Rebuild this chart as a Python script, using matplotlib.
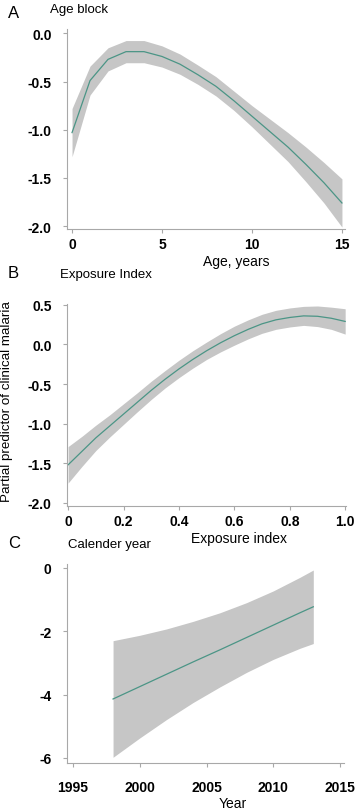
import matplotlib
matplotlib.use("Agg")
import matplotlib.pyplot as plt
import numpy as np

plt.rcParams["font.family"] = ["Liberation Sans", "DejaVu Sans"]

# Panel A: age block
age = [0, 1, 2, 3, 4, 5, 6, 7, 8, 9, 10, 11, 12, 13, 14, 15]
age_fit = [-1.03, -0.49, -0.27, -0.19, -0.19, -0.24, -0.32, -0.43,
           -0.55, -0.70, -0.86, -1.02, -1.18, -1.36, -1.55, -1.76]
age_hw = [0.25, 0.15, 0.12, 0.115, 0.115, 0.11, 0.105, 0.10,
          0.10, 0.10, 0.11, 0.13, 0.15, 0.18, 0.21, 0.25]

# Panel B: exposure index
expo = [0.0, 0.05, 0.1, 0.15, 0.2, 0.25, 0.3, 0.35, 0.4, 0.45, 0.5,
        0.55, 0.6, 0.65, 0.7, 0.75, 0.8, 0.85, 0.9, 0.95, 1.0]
expo_fit = [-1.52, -1.35, -1.18, -1.03, -0.88, -0.73, -0.58, -0.44, -0.31, -0.19, -0.08,
            0.02, 0.11, 0.19, 0.26, 0.31, 0.34, 0.36, 0.355, 0.33, 0.29]
expo_hw = [0.23, 0.19, 0.16, 0.14, 0.13, 0.12, 0.115, 0.11, 0.11, 0.11, 0.11,
           0.115, 0.12, 0.12, 0.12, 0.12, 0.12, 0.12, 0.13, 0.14, 0.16]

# Panel C: calendar year
year = [1998, 2000, 2002, 2004, 2006, 2008, 2010, 2012, 2013]
year_fit = [-4.14, -3.75, -3.36, -2.97, -2.59, -2.20, -1.81, -1.42, -1.23]
year_hw = [1.84, 1.62, 1.43, 1.28, 1.17, 1.10, 1.08, 1.12, 1.16]

BAND = "#c6c6c6"
LINE = "#4b9586"
AXIS = "#a8a8a8"


def panel(ax, x, fit, hw, xlim, ylim, xticks, yticks, xticklabels, yticklabels,
          xpad=3):
    x = np.asarray(x)
    fit = np.asarray(fit)
    hw = np.asarray(hw)
    ax.fill_between(x, fit - hw, fit + hw, color=BAND, lw=0)
    ax.plot(x, fit, color=LINE, lw=0.9)
    ax.set_xlim(xlim)
    ax.set_ylim(ylim)
    for s in ["top", "right"]:
        ax.spines[s].set_visible(False)
    for s in ["left", "bottom"]:
        ax.spines[s].set_color(AXIS)
        ax.spines[s].set_linewidth(0.8)
    ax.tick_params(axis="both", colors=AXIS, labelcolor="black", length=3,
                   width=0.8, labelsize=10)
    ax.tick_params(axis="y", pad=8)
    ax.tick_params(axis="x", pad=xpad)
    ax.set_xticks(xticks, xticklabels, fontweight="bold")
    ax.set_yticks(yticks, yticklabels, fontweight="bold")


fig = plt.figure(figsize=(3.58, 8.12), dpi=100)
W, H = 358, 812


def box(l, t, r, b):
    return [l / W, 1 - b / H, (r - l) / W, (b - t) / H]


axA = fig.add_axes(box(67, 30, 345, 230))
panel(axA, age, age_fit, age_hw, (-0.28, 15.17), (-2.03, 0.045),
      [0, 5, 10, 15], [0, -0.5, -1, -1.5, -2],
      ["0", "5", "10", "15"], ["0.0", "-0.5", "-1.0", "-1.5", "-2.0"])
axA.set_xlabel("Age, years", fontsize=10)
axA.xaxis.set_label_coords(0.61, -0.125)

axB = fig.add_axes(box(67, 305, 346, 507))
panel(axB, expo, expo_fit, expo_hw, (-0.004, 1.003), (-2.04, 0.51),
      [0, 0.2, 0.4, 0.6, 0.8, 1.0], [0.5, 0, -0.5, -1, -1.5, -2],
      ["0", "0.2", "0.4", "0.6", "0.8", "1.0"],
      ["0.5", "0.0", "-0.5", "-1.0", "-1.5", "-2.0"])
axB.set_xlabel("Exposure index", fontsize=10)
axB.xaxis.set_label_coords(0.616, -0.125)
axB.set_ylabel("Partial predictor of clinical malaria", fontsize=9.6)
axB.yaxis.set_label_coords(-0.195, 0.52)

axC = fig.add_axes(box(67, 565, 344, 764))
panel(axC, year, year_fit, year_hw, (1994.55, 2015.3), (-6.16, 0.12),
      [1995, 2000, 2005, 2010, 2015], [0, -2, -4, -6],
      ["1995", "2000", "2005", "2010", "2015"], ["0", "-2", "-4", "-6"],
      xpad=9)
axC.set_xlabel("Year", fontsize=10)
axC.xaxis.set_label_coords(0.6, -0.168)

fig.text(8 / W, 1 - 13 / H, "A", fontsize=12, va="center")
fig.text(50 / W, 1 - 10 / H, "Age block", fontsize=9.5, va="center")
fig.text(8 / W, 1 - 274 / H, "B", fontsize=12, va="center")
fig.text(60 / W, 1 - 275 / H, "Exposure Index", fontsize=9.5, va="center")
fig.text(8 / W, 1 - 544 / H, "C", fontsize=12, va="center")
fig.text(68 / W, 1 - 545 / H, "Calender year", fontsize=9.5, va="center")

fig.savefig("out.png", dpi=100)
